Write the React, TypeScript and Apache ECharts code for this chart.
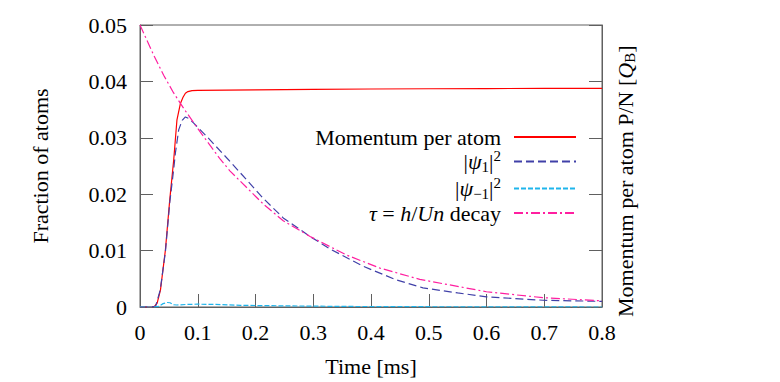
import React, { useEffect, useRef } from 'react';
import * as echarts from 'echarts';

const X_TICKS = ['0', '0.1', '0.2', '0.3', '0.4', '0.5', '0.6', '0.7', '0.8'];
const Y_TICKS = ['0', '0.01', '0.02', '0.03', '0.04', '0.05'];
const X_STEP = 0.1;
const Y_STEP = 0.01;

const SERIES_NAMES = ['Momentum per atom', '|ψ1|^2', '|ψ-1|^2', 'τ = h/Un decay'];
const LEGEND_RICH = [
  '{r|Momentum per atom}',
  '{r||}{i|ψ}{sub|1}{r||}{sup|2}',
  '{r||}{i|ψ}{sub|−1}{r||}{sup|2}',
  '{i|τ}{r| = }{i|h}{r|/}{i|Un}{r| decay}',
];

const momentumT = [0, 0.02, 0.025, 0.0297, 0.0354, 0.044, 0.0515, 0.0584, 0.064, 0.07, 0.0745, 0.0786, 0.083, 0.09, 0.1, 0.2, 0.3, 0.4, 0.5, 0.6, 0.7, 0.8];
const momentumV = [0, 0, 0.0001, 0.0007, 0.003, 0.0101, 0.019, 0.0261, 0.0332, 0.0361, 0.0372, 0.0379, 0.0382, 0.03835, 0.0384, 0.0385, 0.0386, 0.03865, 0.0387, 0.03873, 0.03875, 0.03877];

const psi1T = [0, 0.02, 0.027, 0.035, 0.044, 0.0515, 0.0584, 0.0613, 0.067, 0.073, 0.0786, 0.085, 0.093, 0.116, 0.156, 0.214, 0.248, 0.2945, 0.329, 0.387, 0.444, 0.49, 0.55, 0.6, 0.6975, 0.8];
const psi1V = [0, 0, 0.0001, 0.003, 0.0098, 0.0185, 0.0245, 0.0273, 0.0314, 0.0331, 0.0337, 0.0334, 0.0326, 0.0302, 0.0258, 0.0192, 0.0158, 0.0125, 0.0103, 0.0072, 0.0048, 0.0034, 0.0025, 0.0018, 0.0012, 0.001];

const psiM1T = [0, 0.025, 0.032, 0.04, 0.047, 0.052, 0.058, 0.064, 0.08, 0.099, 0.13, 0.174, 0.25, 0.35, 0.5, 0.65, 0.8];
const psiM1V = [0, 0, 0.0001, 0.0006, 0.0008, 0.00075, 0.0004, 0.00035, 0.00045, 0.0005, 0.00045, 0.0003, 0.0002, 0.0001, 0.00005, 0.00002, 0];

const decayT = [0, 0.024, 0.041, 0.058, 0.0757, 0.1045, 0.139, 0.156, 0.214, 0.248, 0.2945, 0.358, 0.4155, 0.4845, 0.6, 0.6975, 0.8];
const decayV = [0.05, 0.0446, 0.0411, 0.038, 0.0352, 0.031, 0.0262, 0.0241, 0.0182, 0.0153, 0.0125, 0.0092, 0.0069, 0.0049, 0.0027, 0.00165, 0.0011];

const FONT = '"Liberation Serif", "DejaVu Serif", serif';
const AXIS_COLOR = '#606060';

const pairs = (t: number[], v: number[]) => t.map((x, i) => [x, v[i]]);

export default function App() {
  const ref = useRef<HTMLDivElement>(null);
  useEffect(() => {
    if (!ref.current) return;
    const chart = echarts.init(ref.current, null, { renderer: 'svg' });
    const richBase = { fontFamily: FONT, fontSize: 22, color: '#000', lineHeight: 22 };
    const rich = {
      r: { ...richBase },
      i: { ...richBase, fontStyle: 'italic' },
      sub: { fontFamily: FONT, fontSize: 15, color: '#000', lineHeight: 12, padding: [10, 0, 0, 0] },
      sup: { fontFamily: FONT, fontSize: 15, color: '#000', lineHeight: 10, padding: [0, 0, 12, 0] },
    };
    const lineSeries = (idx: number, t: number[], v: number[], color: string, type: any, yAxisIndex = 0) => ({
      type: 'line',
      name: SERIES_NAMES[idx],
      data: pairs(t, v),
      yAxisIndex,
      symbol: 'none',
      smooth: false,
      lineStyle: { color, width: 1.2, type },
      itemStyle: { color },
      z: 2 + idx,
    });
    chart.setOption({
      animation: false,
      grid: {
        left: 140, right: 178, top: 25, bottom: 75,
        show: true, borderColor: AXIS_COLOR, borderWidth: 1, backgroundColor: 'transparent',
      },
      xAxis: {
        type: 'value', min: 0, max: 0.8, interval: X_STEP,
        name: 'Time [ms]', nameLocation: 'middle', nameGap: 48,
        nameTextStyle: { fontFamily: FONT, fontSize: 22, color: '#000' },
        axisLine: { show: true, lineStyle: { color: AXIS_COLOR, width: 1 } },
        axisTick: { show: true, inside: true, length: 13, lineStyle: { color: AXIS_COLOR, width: 1 } },
        axisLabel: {
          fontFamily: FONT, fontSize: 22, color: '#000', margin: 14, showMaxLabel: true, hideOverlap: false,
          formatter: (v: number) => X_TICKS[Math.round(v / X_STEP)] ?? '',
        },
        splitLine: { show: false },
      },
      yAxis: [
        {
          type: 'value', min: 0, max: 0.05, interval: Y_STEP,
          name: 'Fraction of atoms', nameLocation: 'middle', nameGap: 89, nameRotate: 90,
          nameTextStyle: { fontFamily: FONT, fontSize: 22, color: '#000' },
          axisLine: { show: true, lineStyle: { color: AXIS_COLOR, width: 1 } },
          axisTick: { show: true, inside: true, length: 13, lineStyle: { color: AXIS_COLOR, width: 1 } },
          axisLabel: {
            fontFamily: FONT, fontSize: 22, color: '#000', margin: 13,
            formatter: (v: number) => Y_TICKS[Math.round(v / Y_STEP)] ?? '',
          },
          splitLine: { show: false },
        },
        {
          type: 'value', min: 0, max: 0.05, interval: Y_STEP, position: 'right',
          axisLine: { show: true, lineStyle: { color: AXIS_COLOR, width: 1 } },
          axisTick: { show: true, inside: true, length: 13, lineStyle: { color: AXIS_COLOR, width: 1 } },
          axisLabel: { show: false },
          splitLine: { show: false },
        },
      ],
      legend: {
        orient: 'vertical',
        align: 'right',
        right: 203,
        top: 126,
        padding: 0,
        itemGap: 0,
        itemWidth: 62,
        itemHeight: 22,
        selectedMode: false,
        data: SERIES_NAMES,
        itemStyle: { opacity: 0 },
        formatter: (name: string) => LEGEND_RICH[SERIES_NAMES.indexOf(name)],
        textStyle: { fontFamily: FONT, fontSize: 22, color: '#000', padding: [0, 8, 0, 0], rich },
      },
      graphic: [
        {
          type: 'text',
          x: 625,
          y: 317,
          rotation: Math.PI / 2,
          style: {
            text: '{r|Momentum per atom P/N [}{i|Q}{sub|B}{r|]}',
            align: 'left',
            verticalAlign: 'middle',
            fontFamily: FONT,
            fontSize: 22,
            fill: '#000',
            rich,
          },
        },
      ],
      series: [
        lineSeries(0, momentumT, momentumV, '#ff0000', 'solid', 1),
        lineSeries(1, psi1T, psi1V, '#4040a8', [8, 4]),
        lineSeries(2, psiM1T, psiM1V, '#1fb5ec', [5, 2]),
        lineSeries(3, decayT, decayV, '#ff1fa0', [9, 3, 2, 3]),
      ],
    });
    return () => chart.dispose();
  }, []);
  return <div ref={ref} style={{ position: 'fixed', left: 0, top: 0, width: 780, height: 382, background: '#fff' }} />;
}
